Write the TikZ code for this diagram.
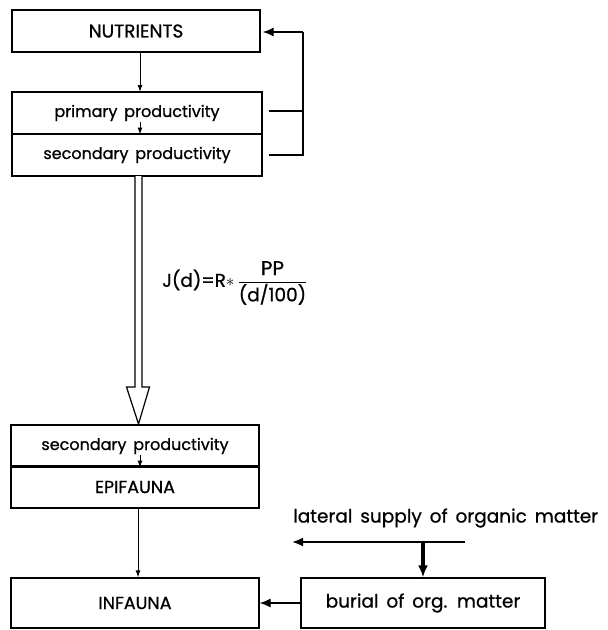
\documentclass[tikz,border=0pt]{standalone}
\usepackage{fontspec}
\setmainfont{Poppins}[WordSpace=1.6, FakeBold=0.8]
\usetikzlibrary{arrows.meta,calc}
\tikzset{
  box/.style={draw, line width=1.2pt, minimum width=248pt, minimum height=42pt, inner sep=0pt, font=\fontsize{16}{19}\selectfont},
  big/.style={font=\fontsize{18.5}{22}\selectfont},
  caps/.style={font=\fontsize{17.5}{21}\selectfont},
  thin arrow/.style={line width=1pt, -{Latex[length=7pt,width=5pt]}},
  thick arrow/.style={line width=1.8pt, -{Latex[length=11pt,width=9pt]}},
  fb line/.style={line width=1.6pt},
  lbl/.style={inner sep=0pt, font=\fontsize{18.5}{22}\selectfont}
}
\begin{document}
\begin{tikzpicture}[x=1pt,y=-1pt]
\useasboundingbox (0,0) rectangle (608,630);
% boxes
\node[box, big] (nutr) at (136,31) {NUTRIENTS};
\node[box, minimum width=250pt] (prod1) at (137,113) {primary productivity};
\node[box, minimum width=250pt] (prod2) at (137,155) {secondary productivity};
\node[box] (sec) at (135,446) {secondary productivity};
\node[box, caps] (epi) at (135,487) {EPIFAUNA};
\node[box, caps, minimum height=50pt] (inf) at (135,603) {INFAUNA};
\node[box, big, minimum width=244pt, minimum height=50pt] (bur) at (423,603) {burial of org. matter};
% arrows between boxes
\draw[thin arrow] (140,52) -- (140,92);
\coordinate (p1a) at (140,122);
\draw[thin arrow] (p1a) -- (p1a |- prod1.south);
\coordinate (s1a) at (140,455);
\draw[thin arrow] (s1a) -- (s1a |- sec.south);
\draw[thin arrow] (epi.south -| 138,0) -- (inf.north -| 138,0);
% feedback
\coordinate (fbtop) at (303,32);
\draw[fb line] ($(prod1.east)+(6,-2)$) -- ($(prod1.east -| fbtop)+(0,-2)$);
\draw[fb line] ($(prod2.east)+(6,0)$) -- (prod2.east -| fbtop) -- (fbtop);
\draw[thick arrow, line width=1.6pt] (fbtop) -- ($(fbtop -| nutr.east)+(2,0)$);
% double hollow arrow
\coordinate (da) at (138.5,176);
\coordinate (dt) at (138.5,424);
\draw[line width=1.2pt, fill=white]
  ($(da)+(-3.5,0)$) -- ($(da)+(-3.5,211)$) -- ($(da)+(-12,211)$) -- (dt)
  -- ($(da)+(11,211)$) -- ($(da)+(3.5,211)$) -- ($(da)+(3.5,0)$);
% formula
\node[lbl, anchor=west] (form) at (162,283) {J(d)=R$\ast$\,$\displaystyle\frac{\mbox{\fontsize{20}{24}\selectfont PP}}{\mbox{(d/100)}}$};
% lateral supply
\node[lbl, anchor=west] (lat) at (293,518) {lateral supply of organic matter};
\coordinate (latR) at (465,542);
\coordinate (latL) at (292,542);
\draw[thick arrow] (latR) -- (latL);
\draw[line width=3.5pt, -{Latex[length=12pt,width=10pt]}] (bur.north |- latR) -- (bur.north);
\draw[thick arrow, line width=1.2pt] (bur.west) -- (inf.east);
\end{tikzpicture}
\end{document}
